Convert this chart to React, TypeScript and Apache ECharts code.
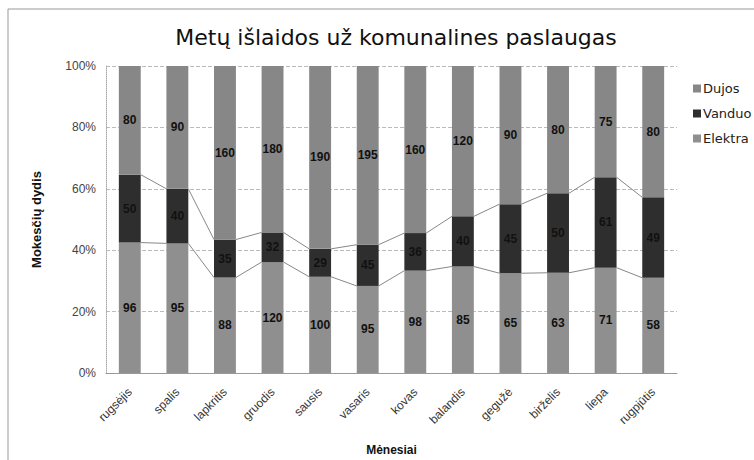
import React, { useEffect, useRef } from "react";
import * as echarts from "echarts";

const months = ["rugsėjis", "spalis", "lapkritis", "gruodis", "sausis", "vasaris", "kovas", "balandis", "gegužė", "birželis", "liepa", "rugpjūtis"];
const elektra = [96, 95, 88, 120, 100, 95, 98, 85, 65, 63, 71, 58];
const vanduo = [50, 40, 35, 32, 29, 45, 36, 40, 45, 50, 61, 49];
const dujos = [80, 90, 160, 180, 190, 195, 160, 120, 90, 80, 75, 80];
const yTicks = [0, 20, 40, 60, 80, 100];

const BAR_RATIO = 0.46;
const SANS = "Liberation Sans, Arial, sans-serif";
const WIDE = "DejaVu Sans, sans-serif";

export default function App() {
  const ref = useRef<HTMLDivElement>(null);
  useEffect(() => {
    if (!ref.current) return;
    const chart = echarts.init(ref.current, null, { renderer: "svg" });
    const totals = months.map((_, i) => elektra[i] + vanduo[i] + dujos[i]);
    const pct = (arr: number[]) => arr.map((v, i) => (v / totals[i]) * 100);
    const pE = pct(elektra);
    const pV = pct(vanduo);
    const pD = pct(dujos);
    const b1 = pE;
    const b2 = pE.map((v, i) => v + pV[i]);
    const segs: number[][] = [];
    for (let i = 0; i < months.length - 1; i++) {
      segs.push([i, b1[i], b1[i + 1]]);
      segs.push([i, b2[i], b2[i + 1]]);
    }
    const labelStyle = (raw: number[]) => ({
      show: true,
      position: "inside" as const,
      color: "#111",
      fontWeight: "bold" as const,
      fontSize: 12,
      fontFamily: SANS,
      formatter: (p: any) => String(raw[p.dataIndex]),
    });
    chart.setOption({
      animation: false,
      backgroundColor: "#fff",
      title: {
        text: "Metų išlaidos už komunalines paslaugas",
        left: 391,
        textAlign: "center",
        top: 21,
        textStyle: { fontFamily: WIDE, fontSize: 22, fontWeight: "normal", color: "#111" },
      },
      legend: {
        orient: "vertical",
        left: 688,
        top: 77,
        itemGap: 12,
        itemWidth: 8,
        itemHeight: 8,
        icon: "rect",
        data: ["Dujos", "Vanduo", "Elektra"],
        textStyle: { fontFamily: WIDE, fontSize: 13, color: "#222", padding: [0, 0, 0, -3] },
      },
      grid: { left: 106, right: 77, top: 66, bottom: 87, containLabel: false, outerBoundsMode: "none" },
      xAxis: {
        type: "category",
        data: months,
        name: "Mėnesiai",
        nameLocation: "middle",
        nameGap: 71,
        nameTextStyle: { fontFamily: SANS, fontSize: 12, fontWeight: "bold", color: "#111" },
        axisLine: { lineStyle: { color: "#999" } },
        axisTick: { show: false },
        axisLabel: { rotate: 45, fontFamily: SANS, fontSize: 12, color: "#333", margin: 17 },
      },
      yAxis: {
        type: "value",
        min: 0,
        max: 100,
        interval: 20,
        name: "Mokesčių dydis",
        nameLocation: "middle",
        nameGap: 63,
        nameTextStyle: { fontFamily: SANS, fontSize: 13, fontWeight: "bold", color: "#111" },
        axisLine: { show: true, lineStyle: { color: "#aaa", type: "dotted" } },
        axisTick: { show: false },
        axisLabel: {
          fontFamily: SANS,
          fontSize: 12,
          color: "#444",
          margin: 10,
          formatter: (v: number) => (yTicks.includes(v) ? v + "%" : ""),
        },
        splitLine: { lineStyle: { color: "#bbb", type: "dashed" } },
      },
      series: [
        {
          name: "Elektra",
          type: "bar",
          stack: "s",
          barWidth: BAR_RATIO * 100 + "%",
          data: pE,
          itemStyle: { color: "#8f8f8f" },
          label: labelStyle(elektra),
        },
        {
          name: "Vanduo",
          type: "bar",
          stack: "s",
          data: pV,
          itemStyle: { color: "#2e2e2e" },
          label: labelStyle(vanduo),
        },
        {
          name: "Dujos",
          type: "bar",
          stack: "s",
          data: pD,
          itemStyle: { color: "#878787" },
          label: labelStyle(dujos),
        },
        {
          type: "custom",
          silent: true,
          data: segs,
          z: 5,
          renderItem: (params: any, api: any) => {
            const i = api.value(0);
            const p1 = api.coord([i, api.value(1)]);
            const p2 = api.coord([i + 1, api.value(2)]);
            const hw = (api.size([1, 0])[0] * BAR_RATIO) / 2;
            return {
              type: "line",
              shape: { x1: p1[0] + hw, y1: p1[1], x2: p2[0] - hw, y2: p2[1] },
              style: { stroke: "#888", lineWidth: 1 },
            };
          },
        },
      ],
      graphic: [
        { type: "line", shape: { x1: 8, y1: 9, x2: 754, y2: 9 }, style: { stroke: "#999", lineWidth: 1 } },
        { type: "line", shape: { x1: 8, y1: 9, x2: 8, y2: 460 }, style: { stroke: "#999", lineWidth: 1 } },
      ],
    });
    return () => chart.dispose();
  }, []);
  return <div ref={ref} style={{ position: "fixed", left: 0, top: 0, width: 754, height: 460 }} />;
}
